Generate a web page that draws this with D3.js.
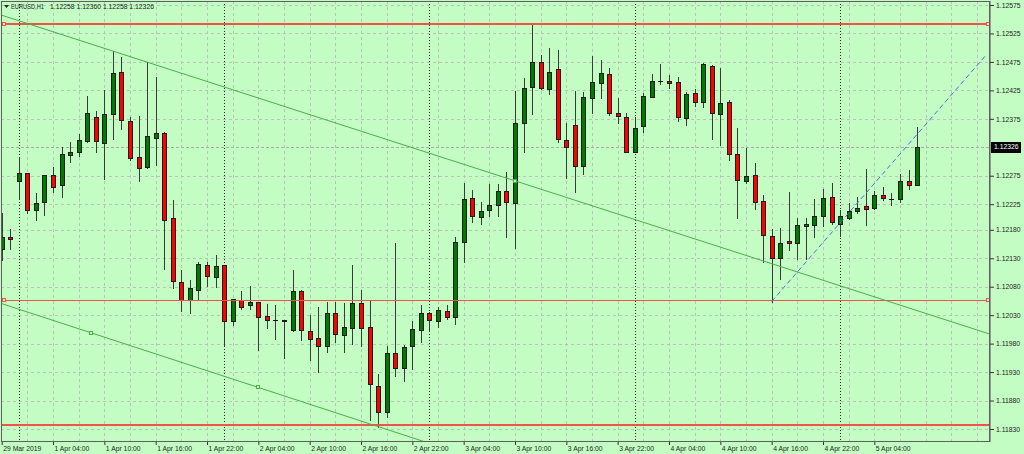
<!DOCTYPE html>
<html><head><meta charset="utf-8">
<script src="https://cdn.jsdelivr.net/npm/d3@7"></script>
<style>html,body{margin:0;padding:0;background:#c3fdc3;overflow:hidden}svg{display:block}</style>
</head><body><svg id="c" width="1024" height="454"></svg>
<script>
// ---------- DATA ----------
const symbolLabel = "EURUSD,H1";
const headerValues = ["1.12258", "1.12360", "1.12258", "1.12326"];

const open = [1.12146,1.12168,1.12265,1.12279,1.12214,1.12228,1.12276,1.12258,1.12312,1.12317,
1.12336,1.12379,1.12332,1.12384,1.12458,1.12371,1.12308,1.12291,1.12342,1.12350,
1.12201,1.12089,1.12057,1.12075,1.12118,1.12097,1.12118,1.12019,1.12057,1.12047,
1.12053,1.12028,1.12021,1.12021,1.12004,1.12072,1.12002,1.11990,1.11975,1.12033,
1.11995,1.12008,1.12051,1.12009,1.11905,1.11859,1.11964,1.11938,1.11976,1.12004,
1.12033,1.12020,1.12038,1.12027,1.12159,1.12236,1.12203,1.12214,1.12223,1.12249,
1.12227,1.12367,1.12431,1.12475,1.12427,1.12463,1.12337,1.12365,1.12292,1.12412,
1.12438,1.12454,1.12385,1.12378,1.12317,1.12362,1.12414,1.12441,1.12441,1.12439,
1.12376,1.12420,1.12404,1.12468,1.12384,1.12404,1.12313,1.12266,1.12276,1.12230,
1.12169,1.12131,1.12160,1.12156,1.12186,1.12188,1.12204,1.12237,1.12190,1.12200,
1.12213,1.12221,1.12218,1.12242,1.12235,1.12235,1.12266,1.12258];

const high = [1.12209,1.12181,1.12308,1.12280,1.12245,1.12277,1.12291,1.12325,1.12334,1.12348,
1.12415,1.12389,1.12426,1.12494,1.12483,1.12379,1.12380,1.12474,1.12449,1.12352,
1.12232,1.12109,1.12092,1.12123,1.12123,1.12135,1.12119,1.12058,1.12072,1.12082,
1.12053,1.12049,1.12047,1.12022,1.12109,1.12074,1.12030,1.12044,1.12054,1.12053,
1.12051,1.12118,1.12074,1.12055,1.11927,1.11976,1.12156,1.11978,1.12019,1.12048,
1.12035,1.12045,1.12048,1.12168,1.12262,1.12250,1.12228,1.12260,1.12260,1.12282,
1.12424,1.12446,1.12541,1.12488,1.12499,1.12496,1.12367,1.12424,1.12423,1.12486,
1.12478,1.12465,1.12411,1.12385,1.12379,1.12420,1.12454,1.12471,1.12452,1.12448,
1.12423,1.12427,1.12473,1.12470,1.12464,1.12408,1.12359,1.12324,1.12297,1.12242,
1.12181,1.12184,1.12247,1.12200,1.12200,1.12235,1.12251,1.12263,1.12215,1.12227,
1.12237,1.12286,1.12249,1.12255,1.12245,1.12278,1.12285,1.12360];

const low = [1.12127,1.12146,1.12235,1.12209,1.12197,1.12206,1.12246,1.12238,1.12299,1.12310,
1.12334,1.12317,1.12270,1.12339,1.12358,1.12303,1.12265,1.12289,1.12294,1.12112,
1.12078,1.12037,1.12033,1.12057,1.12082,1.12080,1.11976,1.12013,1.12041,1.12041,
1.11968,1.12007,1.11988,1.11954,1.12003,1.11986,1.11951,1.11931,1.11966,1.11983,
1.11966,1.11979,1.11976,1.11846,1.11834,1.11851,1.11924,1.11915,1.11935,1.11983,
1.12004,1.12010,1.12023,1.12014,1.12123,1.12193,1.12190,1.12204,1.12205,1.12168,
1.12148,1.12317,1.12383,1.12428,1.12419,1.12335,1.12271,1.12246,1.12278,1.12386,
1.12411,1.12382,1.12367,1.12316,1.12316,1.12351,1.12413,1.12436,1.12430,1.12372,
1.12364,1.12398,1.12395,1.12339,1.12329,1.12303,1.12200,1.12262,1.12216,1.12123,
1.12054,1.12094,1.12145,1.12129,1.12129,1.12168,1.12187,1.12191,1.12169,1.12199,
1.12210,1.12188,1.12217,1.12232,1.12224,1.12229,1.12251,1.12258];

const close = [1.12168,1.12164,1.12280,1.12214,1.12227,1.12277,1.12256,1.12313,1.12316,1.12337,
1.12385,1.12336,1.12384,1.12456,1.12373,1.12307,1.12288,1.12344,1.12350,1.12198,
1.12090,1.12057,1.12077,1.12120,1.12098,1.12116,1.12019,1.12058,1.12044,1.12053,
1.12027,1.12022,1.12021,1.12019,1.12072,1.12004,1.11989,1.11976,1.12033,1.11997,
1.12009,1.12051,1.12008,1.11909,1.11859,1.11964,1.11938,1.11974,1.12005,1.12033,
1.12022,1.12039,1.12027,1.12159,1.12235,1.12204,1.12213,1.12223,1.12249,1.12228,
1.12367,1.12430,1.12475,1.12429,1.12457,1.12340,1.12325,1.12292,1.12413,1.12439,
1.12455,1.12386,1.12380,1.12317,1.12359,1.12415,1.12442,1.12441,1.12438,1.12378,
1.12419,1.12405,1.12472,1.12385,1.12402,1.12313,1.12267,1.12275,1.12228,1.12170,
1.12130,1.12157,1.12156,1.12188,1.12190,1.12204,1.12236,1.12193,1.12204,1.12213,
1.12218,1.12217,1.12242,1.12236,1.12235,1.12265,1.12259,1.12326];

const priceTicks = [1.12575,1.12525,1.12475,1.12425,1.12375,1.12275,1.12225,1.12180,1.12130,1.12080,1.12030,1.11980,1.11930,1.11880,1.11830];
const currentPrice = 1.12326;

const timeTickIndex = [0,6,12,18,24,30,36,42,48,54,60,66,72,78,84,90,96,102];
const timeTickLabels = ["29 Mar 2019","1 Apr 04:00","1 Apr 10:00","1 Apr 16:00","1 Apr 22:00","2 Apr 04:00","2 Apr 10:00","2 Apr 16:00","2 Apr 22:00","3 Apr 04:00","3 Apr 10:00","3 Apr 16:00","3 Apr 22:00","4 Apr 04:00","4 Apr 10:00","4 Apr 16:00","4 Apr 22:00","5 Apr 04:00"];
const daySeparators = [2,26,50,74,98];

const levelPrices = [1.12542, 1.12056, 1.11837];
const levelWidths = [2, 1, 2];
const levelMarked = [true, true, false];

const channelUpper = [[13, 1.12494],[60, 1.12266]];
const channelLower = [[10.45, 1.11999],[30, 1.11903]];
const upperMarkers = [60];
const lowerMarkers = [10.45, 30];
const blueLine = [[90, 1.12054],[115.06, 1.12487]];

// ---------- DRAW ----------
const BG = "#c3fdc3";
const svg = d3.select("#c");
const W = 1024, H = 454;
const P = {l:1, t:1, r:989, b:441};

const x = d3.scaleLinear().domain([0,107]).range([1.7, 917.1]);
const y = d3.scaleLinear().domain([1.11830,1.12575]).range([429,5]);

svg.append("rect").attr("width",W).attr("height",H).attr("fill",BG);
svg.append("defs").append("clipPath").attr("id","clip")
  .append("rect").attr("x",P.l+1).attr("y",P.t+1).attr("width",P.r-P.l-1).attr("height",P.b-P.t-1);

const font = "'Liberation Sans', Arial, sans-serif";
const fs = 6.8;

// grid
const grid = svg.append("g").attr("clip-path","url(#clip)");
const vIdx = d3.range(3, 116, 3);
grid.selectAll("line.vg").data(vIdx).join("line")
  .attr("x1",d=>Math.round(x(d))+0.5).attr("x2",d=>Math.round(x(d))+0.5)
  .attr("y1",P.t).attr("y2",P.b)
  .attr("stroke","#b6c5b6").attr("stroke-width",1).attr("stroke-dasharray","3,3");
grid.selectAll("line.hg").data(priceTicks).join("line")
  .attr("y1",d=>Math.round(y(d))+0.5).attr("y2",d=>Math.round(y(d))+0.5)
  .attr("x1",P.l).attr("x2",P.r)
  .attr("stroke","#b6c5b6").attr("stroke-width",1).attr("stroke-dasharray","3,3");
grid.append("line")
  .attr("y1",Math.round(y(currentPrice))+0.5).attr("y2",Math.round(y(currentPrice))+0.5)
  .attr("x1",P.l).attr("x2",P.r)
  .attr("stroke","#a6aea6").attr("stroke-width",1).attr("stroke-dasharray","3,2");

// day separators
grid.selectAll("line.sep").data(daySeparators).join("line")
  .attr("x1",d=>Math.round(x(d))+0.5).attr("x2",d=>Math.round(x(d))+0.5)
  .attr("y1",P.t).attr("y2",P.b)
  .attr("stroke","#2a2a2a").attr("stroke-width",1).attr("stroke-dasharray","1,2");

// candles
const idx = d3.range(open.length);
const cg = svg.append("g").attr("clip-path","url(#clip)");
const cs = cg.selectAll("g.c").data(idx).join("g");
cs.append("line")
  .attr("x1",i=>Math.round(x(i))+0.5).attr("x2",i=>Math.round(x(i))+0.5)
  .attr("y1",i=>Math.round(y(high[i]))).attr("y2",i=>Math.round(y(low[i]))+1)
  .attr("stroke","#3a3a3a").attr("stroke-width",1);
cs.each(function(i){
  const g = d3.select(this);
  const cx = Math.round(x(i));
  const top = Math.round(y(Math.max(open[i],close[i])));
  const bot = Math.round(y(Math.min(open[i],close[i])));
  if (bot - top < 1) {
    g.append("line").attr("x1",cx-2).attr("x2",cx+3)
      .attr("y1",top+0.5).attr("y2",top+0.5)
      .attr("stroke","#151515").attr("stroke-width",1);
  } else {
    g.append("rect").attr("x",cx-1.5).attr("y",top+0.5)
      .attr("width",4).attr("height",bot-top)
      .attr("fill", close[i] > open[i] ? "#007a00" : "#ff0000")
      .attr("stroke","#1c1c1c").attr("stroke-width",1);
  }
});

// objects
const og = svg.append("g").attr("clip-path","url(#clip)");
og.selectAll("line.lv").data(levelPrices).join("line")
  .attr("x1",P.l).attr("x2",P.r)
  .attr("y1",(d,k)=>levelWidths[k]===1?Math.round(y(d))+0.5:Math.round(y(d)))
  .attr("y2",(d,k)=>levelWidths[k]===1?Math.round(y(d))+0.5:Math.round(y(d)))
  .attr("stroke","#f05448").attr("stroke-width",(d,k)=>levelWidths[k]);

function extend(pts, i0, i1){
  const [a,b] = pts;
  const s = (b[1]-a[1])/(b[0]-a[0]);
  return [[i0, a[1]+(i0-a[0])*s],[i1, a[1]+(i1-a[0])*s]];
}
function lineAt(pts, i){
  const [a,b] = pts; const s=(b[1]-a[1])/(b[0]-a[0]); return a[1]+(i-a[0])*s;
}
const ln = d3.line().x(d=>x(d[0])).y(d=>y(d[1]));
og.append("path").attr("d",ln(extend(channelUpper,-2,120)))
  .attr("fill","none").attr("stroke","#4cae4c").attr("stroke-width",1);
og.append("path").attr("d",ln(extend(channelLower,-2,120)))
  .attr("fill","none").attr("stroke","#4cae4c").attr("stroke-width",1);
og.append("path").attr("d",ln(blueLine))
  .attr("fill","none").attr("stroke","#4d6fe0").attr("stroke-width",1).attr("stroke-dasharray","5,3");

const mk = [];
upperMarkers.forEach(i=>mk.push({px:x(i),py:y(lineAt(channelUpper,i)),c:"#4cae4c"}));
lowerMarkers.forEach(i=>mk.push({px:x(i),py:y(lineAt(channelLower,i)),c:"#4cae4c"}));
levelPrices.forEach((p,k)=>{ if(levelMarked[k]){
  mk.push({px:3.5,py:y(p),c:"#f05448"});
  mk.push({px:987.5,py:y(p),c:"#f05448"});
}});
og.selectAll("rect.mk").data(mk).join("rect")
  .attr("x",d=>Math.round(d.px)-1.5).attr("y",d=>Math.round(d.py)-1.5)
  .attr("width",3).attr("height",3)
  .attr("fill",BG).attr("stroke",d=>d.c).attr("stroke-width",1);

// frame
svg.append("rect").attr("x",1.5).attr("y",1.5).attr("width",P.r-1).attr("height",P.b-1)
  .attr("fill","none").attr("stroke","#5f5f5f").attr("stroke-width",1);
svg.append("line").attr("x1",P.r+1.5).attr("x2",P.r+1.5).attr("y1",1).attr("y2",P.b+1)
  .attr("stroke","#9a9a9a").attr("stroke-width",1);

// y axis
const yAxis = d3.axisRight(y).tickValues(priceTicks).tickFormat(d3.format(".5f"))
  .tickSize(4).tickPadding(2);
const ya = svg.append("g").attr("transform",`translate(${P.r+1},0)`).call(yAxis);
ya.select(".domain").remove();
ya.selectAll(".tick line").attr("stroke","#333");
ya.selectAll(".tick text").attr("font-family",font).attr("font-size",fs).attr("fill","#1e1e1e");

// current price label
const cy = y(currentPrice);
svg.append("rect").attr("x",P.r+2).attr("y",Math.round(cy)-5).attr("width",30).attr("height",11).attr("fill","#000");
svg.append("text").attr("x",P.r+5).attr("y",cy).attr("dy","0.34em")
  .attr("font-family",font).attr("font-size",fs).attr("fill","#fff").text(d3.format(".5f")(currentPrice));

// x axis
const xAxis = d3.axisBottom(x).tickValues(timeTickIndex)
  .tickFormat((d,k)=>timeTickLabels[k]).tickSize(3).tickPadding(1.5);
const xa = svg.append("g").attr("transform",`translate(0,${P.b+1})`).call(xAxis);
xa.select(".domain").remove();
xa.selectAll(".tick line").attr("stroke","#333");
xa.selectAll(".tick text").attr("text-anchor","start").attr("dx",1)
  .attr("font-family",font).attr("font-size",fs).attr("fill","#1e1e1e");

// header
svg.append("path").attr("d","M4,5 L9,5 L6.5,8 Z").attr("fill","#222");
svg.append("text").attr("x",11).attr("y",8.6).attr("font-family",font).attr("font-size",fs)
  .attr("fill","#1e1e1e").attr("textLength",33).attr("lengthAdjust","spacingAndGlyphs").text(symbolLabel);
svg.append("text").attr("x",50).attr("y",8.6).attr("font-family",font).attr("font-size",fs)
  .attr("fill","#1e1e1e").text(headerValues.join(" "));
</script></body></html>
